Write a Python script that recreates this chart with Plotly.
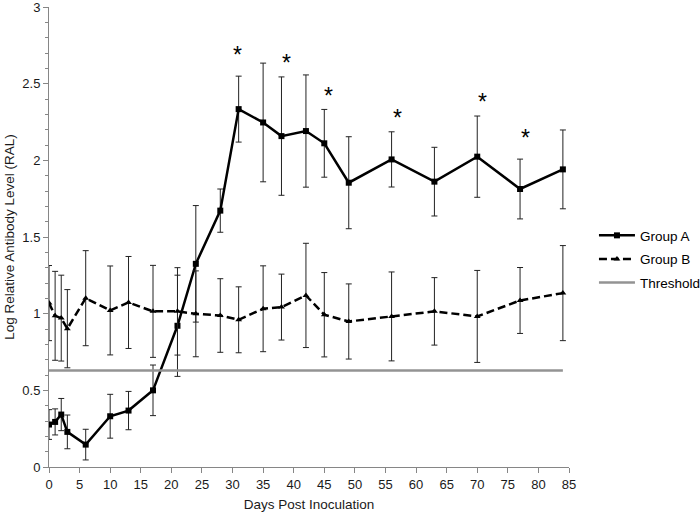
import plotly.graph_objects as go

days = [0, 1, 2, 3, 6, 10, 13, 17, 21, 24, 28, 31, 35, 38, 42, 45, 49, 56, 63, 70, 77, 84]

group_a = [0.277, 0.294, 0.342, 0.229, 0.146, 0.331, 0.368, 0.50, 0.921, 1.325, 1.672, 2.334,
           2.247, 2.158, 2.191, 2.111, 1.854, 2.006, 1.861, 2.024, 1.813, 1.941]
group_a_err = [0.097, 0.085, 0.105, 0.11, 0.10, 0.143, 0.125, 0.165, 0.33, 0.38, 0.141, 0.215,
               0.387, 0.386, 0.366, 0.221, 0.30, 0.18, 0.224, 0.265, 0.195, 0.257]

group_b = [1.069, 0.986, 0.971, 0.902, 1.101, 1.021, 1.073, 1.015, 1.015, 0.999, 0.988, 0.960,
           1.032, 1.043, 1.119, 0.993, 0.949, 0.982, 1.015, 0.982, 1.086, 1.134]
group_b_err = [0.245, 0.29, 0.28, 0.255, 0.31, 0.29, 0.30, 0.30, 0.285, 0.28, 0.24, 0.215,
               0.28, 0.215, 0.34, 0.275, 0.245, 0.29, 0.22, 0.30, 0.215, 0.31]

threshold_days = [0, 84]
threshold_vals = [0.63, 0.63]

sig_x = [30.8, 38.8, 45.7, 57.0, 70.9, 77.9]
sig_y = [2.72, 2.668, 2.451, 2.31, 2.41, 2.176]

FONT = "Liberation Sans, Arial, sans-serif"
AXIS_GRAY = "#868686"
TEXT = "#1a1a1a"

fig = go.Figure()

fig.add_trace(go.Scatter(
    x=days, y=group_a, name="Group A", mode="lines+markers", legendgroup="a",
    line=dict(color="black", width=2.5),
    marker=dict(symbol="square", size=6, color="black"),
    error_y=dict(type="data", array=group_a_err, visible=True, color="#222222", thickness=1, width=3),
))
fig.add_trace(go.Scatter(
    x=days, y=group_b, name="Group B", mode="lines+markers", legendgroup="b",
    line=dict(color="black", width=2.5, dash="8px,4px"),
    marker=dict(symbol="triangle-up", size=6, color="black"),
    error_y=dict(type="data", array=group_b_err, visible=True, color="#222222", thickness=1, width=3),
))
fig.add_trace(go.Scatter(
    x=threshold_days, y=threshold_vals, name="Threshold", mode="lines", legendgroup="t",
    line=dict(color="#939393", width=2.5),
))

for sx, sy in zip(sig_x, sig_y):
    fig.add_annotation(x=sx, y=sy, text="*", showarrow=False,
                       font=dict(family=FONT, size=23, color="black"),
                       xanchor="center", yanchor="middle", yshift=-5)

fig.update_layout(
    width=700, height=513,
    paper_bgcolor="white", plot_bgcolor="white",
    margin=dict(l=49, r=131, t=7, b=46, autoexpand=False),
    font=dict(family=FONT, size=13, color=TEXT),
    showlegend=True,
    legend=dict(x=1.048, xanchor="left", y=0.452, yanchor="middle",
                font=dict(family=FONT, size=13.5, color="black"),
                traceorder="grouped", tracegroupgap=3, itemwidth=36,
                bgcolor="rgba(0,0,0,0)"),
    xaxis=dict(
        range=[0, 85], dtick=5, tick0=0, showgrid=False, zeroline=False,
        showline=True, linecolor=AXIS_GRAY, linewidth=1, automargin=False,
        ticks="outside", ticklen=5, tickcolor=AXIS_GRAY, ticklabeloverflow="allow",
        tickfont=dict(family=FONT, size=13, color=TEXT),
        title=dict(text="Days Post Inoculation", font=dict(family=FONT, size=13.5, color=TEXT), standoff=8),
    ),
    yaxis=dict(
        range=[0, 3], dtick=0.5, tick0=0, showgrid=False, zeroline=False,
        showline=True, linecolor=AXIS_GRAY, linewidth=1, automargin=False,
        ticks="outside", ticklen=5, tickcolor=AXIS_GRAY, ticklabeloverflow="allow",
        minor=dict(dtick=0.1, ticks="outside", ticklen=3, tickcolor=AXIS_GRAY, showgrid=False),
        tickfont=dict(family=FONT, size=13, color=TEXT),
        title=dict(text="Log Relative Antibody Level (RAL)", font=dict(family=FONT, size=13.5, color=TEXT), standoff=4),
    ),
)

fig.write_html("out.html", config={"displayModeBar": False})

# remove the browser's default body margin so the figure sits at the page origin
with open("out.html", "r", encoding="utf-8") as f:
    html = f.read()
html = html.replace("<head>", "<head><style>html,body{margin:0;padding:0;overflow:hidden;}</style>", 1)
with open("out.html", "w", encoding="utf-8") as f:
    f.write(html)
